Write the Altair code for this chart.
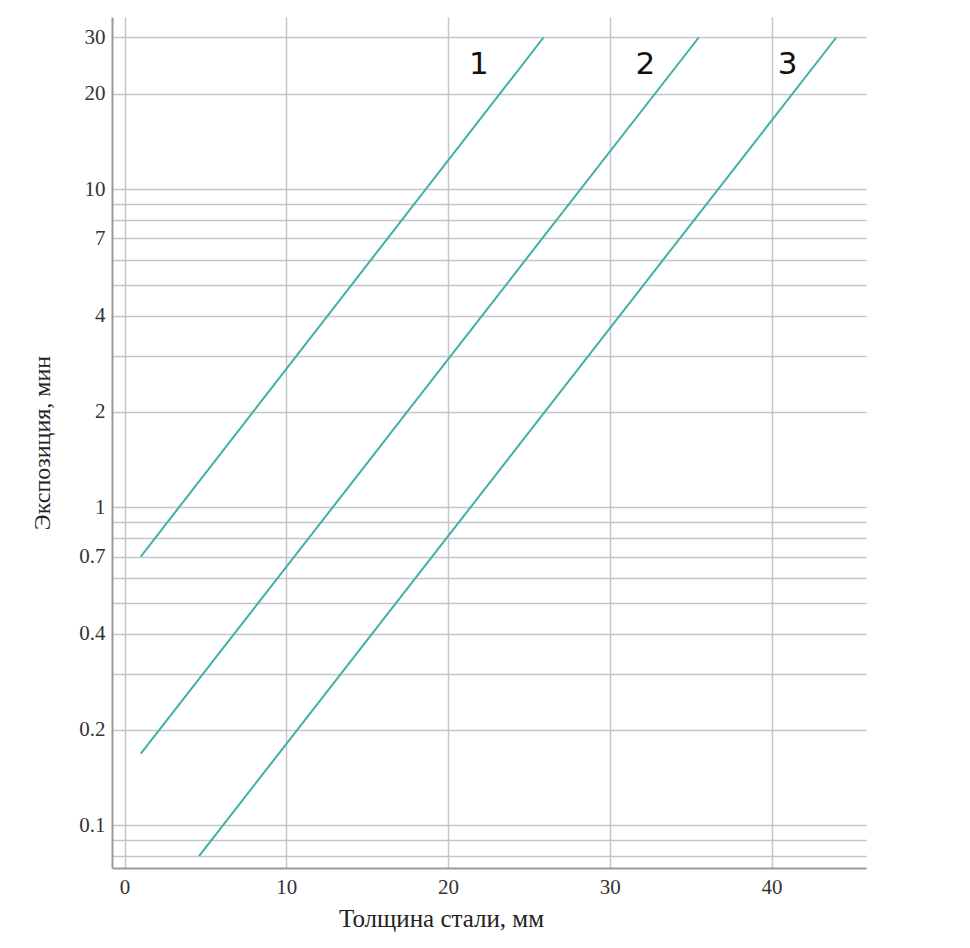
import altair as alt
import pandas as pd

# Data
series = ["1", "2", "3"]
x_start = [1.0, 1.0, 4.6]
x_end = [25.9, 35.5, 44.0]
y_start = [0.7, 0.168, 0.08]
y_end = [30.0, 30.0, 30.0]

label_text = ["1", "2", "3"]
label_x = [21.9, 32.2, 41.0]
label_y = [24.5, 24.5, 24.5]

y_grid = [0.08, 0.09, 0.1, 0.2, 0.3, 0.4, 0.5, 0.6, 0.7, 0.8, 0.9,
          1, 2, 3, 4, 5, 6, 7, 8, 9, 10, 20, 30]
y_labels = [0.1, 0.2, 0.4, 0.7, 1, 2, 4, 7, 10, 20, 30]
x_ticks = [0, 10, 20, 30, 40]

rows = []
for s, xa, xb, ya, yb in zip(series, x_start, x_end, y_start, y_end):
    rows.append({"series": s, "x": xa, "y": ya, "o": 0})
    rows.append({"series": s, "x": xb, "y": yb, "o": 1})
lines_df = pd.DataFrame(rows)
labels_df = pd.DataFrame({"t": label_text, "x": label_x, "y": label_y})

label_arr = "[" + ",".join(repr(float(v)) for v in y_labels) + "]"
label_expr = f"indexof({label_arr}, datum.value) >= 0 ? format(datum.value, '~g') : ''"

xscale = alt.Scale(domain=[-0.78, 45.84], nice=False, zero=False)
yscale = alt.Scale(type="log", domain=[0.0734, 34.8], nice=False)

xaxis = alt.Axis(values=x_ticks, title="Толщина стали, мм", ticks=False,
                 labelPadding=8, titlePadding=9, titleX=329, titleAnchor="middle",
                 titleFontSize=25)
yaxis = alt.Axis(values=y_grid, labelExpr=label_expr, title="Экспозиция, мин",
                 ticks=False, labelPadding=7, titlePadding=24, titleFontSize=24)

lines = alt.Chart(lines_df).mark_line(color="#3fb0a8", strokeWidth=2).encode(
    x=alt.X("x:Q", scale=xscale, axis=xaxis),
    y=alt.Y("y:Q", scale=yscale, axis=yaxis),
    detail="series:N",
    order="o:Q",
)

texts = alt.Chart(labels_df).mark_text(
    font="DejaVu Sans", fontSize=31, color="#111111", baseline="middle", align="center"
).encode(
    x=alt.X("x:Q", scale=xscale),
    y=alt.Y("y:Q", scale=yscale),
    text="t:N",
)

chart = (lines + texts).properties(
    width=754, height=851,
    padding={"left": 22, "top": 9, "right": 5, "bottom": 5},
).configure_view(
    stroke=None
).configure_axis(
    labelFont="Liberation Serif",
    labelFontSize=21,
    labelColor="#333333",
    titleFont="Liberation Serif",
    titleFontWeight="normal",
    titleColor="#222222",
    gridColor="#c6c6c6",
    gridWidth=1.5,
    domainColor="#9a9a9a",
    domainWidth=2,
).configure_axisY(
    domain=True,
)

chart.save("out.html", embed_options={"renderer": "svg", "actions": False})
